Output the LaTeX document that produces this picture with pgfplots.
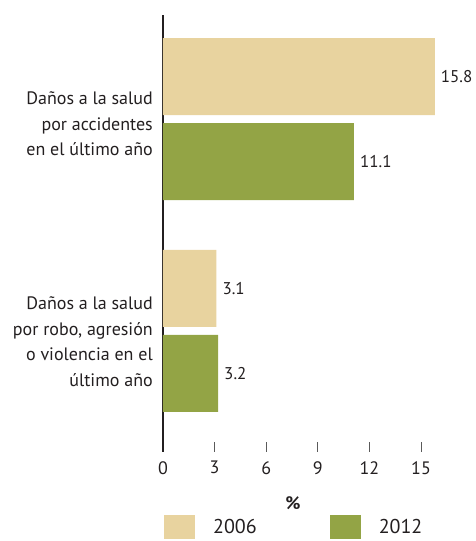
\documentclass[border=0pt]{standalone}
\usepackage{fontspec}
\setmainfont{PT Sans}
\usepackage{pgfplots}
\pgfplotsset{compat=1.18}
\definecolor{Sand}{HTML}{E8D39F}
\definecolor{Olive}{HTML}{93A445}
\definecolor{Ink}{HTML}{231F20}
\definecolor{TickGray}{HTML}{5A5A5A}

\begin{document}
\begin{tikzpicture}
\useasboundingbox (0pt,0pt) rectangle (475pt,541pt);
\begin{axis}[
  at={(163pt,89pt)},anchor=south west,
  scale only axis,width=275.2pt,height=437pt,
  xmin=0,xmax=16,ymin=-0.5708,ymax=1.4906,
  xbar,bar width=77pt,
  /pgf/number format/assume math mode=true,
  axis y line*=left,axis x line*=bottom,
  x axis line style={draw=none},
  y axis line style={line width=2pt,Ink},
  xtick={0,3,6,9,12,15},
  xtick align=inside,
  major tick length=10pt,
  xtick style={TickGray,line width=0.8pt},
  ytick={-0.05,0.976},
  ytick style={draw=none},
  yticklabels={{Daños a la salud\\por robo, agresión\\o violencia en el\\último año},
               {Daños a la salud\\por accidentes\\en el último año}},
  yticklabel style={align=right,inner sep=0pt,xshift=0pt,
    font=\fontsize{18}{25.5}\selectfont,text=Ink},
  xticklabel style={inner sep=0pt,yshift=-9pt,font=\fontsize{18}{20}\selectfont,text=Ink},
  xlabel={\textbf{\%}},
  xlabel style={at={(axis description cs:0.4724,-0.1167)},anchor=center,
    font=\fontsize{18}{20}\selectfont,text=Ink},
  nodes near coords={\pgfmathprintnumber[fixed,fixed zerofill,precision=1]{\pgfplotspointmeta}},
  nodes near coords style={anchor=west,inner sep=0pt,xshift=6pt,
    font=\fontsize{17}{20}\selectfont,text=Ink},
  legend style={at={(axis description cs:0.0036,-0.1487)},anchor=north west,
    draw=none,fill=none,inner sep=0pt,font=\fontsize{20}{24}\selectfont,
    text=Ink,legend columns=2,yshift=2pt,
    /tikz/every odd column/.append style={column sep=16pt},
    /tikz/every even column/.append style={column sep=71pt}},
  legend image code/.code={\fill[#1] (0pt,-12pt) rectangle (31pt,12pt);},
  legend cell align=left,
]
\addplot[fill=Sand,draw=none,bar shift=42.5pt] coordinates {(15.8,1) (3.1,0)};
\addplot[fill=Olive,draw=none,bar shift=-42.5pt] coordinates {(11.1,1) (3.2,0)};
\legend{2006,2012}
\end{axis}
\end{tikzpicture}
\end{document}
